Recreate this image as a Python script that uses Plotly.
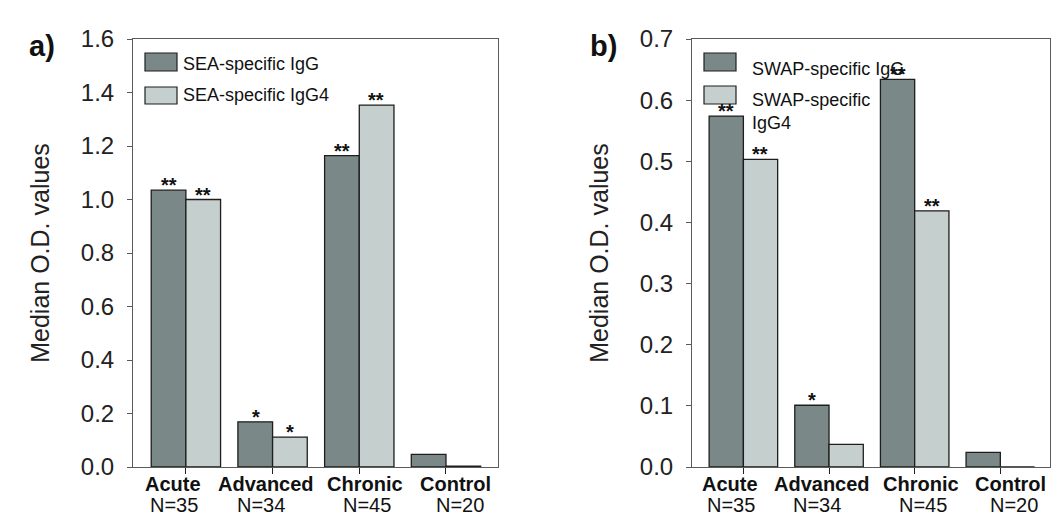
import plotly.graph_objects as go

# ---------------- data ----------------
categories = ["Acute", "Advanced", "Chronic", "Control"]
group_sizes = ["N=35", "N=34", "N=45", "N=20"]

a_igg = [1.035, 0.169, 1.164, 0.047]
a_igg4 = [1.000, 0.112, 1.353, 0.003]
a_igg_sig = ["**", "*", "**", ""]
a_igg4_sig = ["**", "*", "**", ""]

b_igg = [0.574, 0.101, 0.634, 0.024]
b_igg4 = [0.503, 0.037, 0.419, 0.0]
b_igg_sig = ["**", "*", "**", ""]
b_igg4_sig = ["**", "", "**", ""]

a_names = ["SEA-specific IgG", "SEA-specific IgG4"]
b_names = ["SWAP-specific IgG", "SWAP-specific<br>IgG4"]

# ---------------- style ----------------
W, H = 1056, 519
FONT = "Liberation Sans, Arial, sans-serif"
DARK = "#7a8887"
LIGHT = "#c5cfcd"
EDGE = "#1e1e1e"
AXC = "#5a5a5a"

def px(x):
    return x / W

def py(y):
    return 1 - y / H

fig = go.Figure()

def add_bars(vals, name, color, xa, ya):
    fig.add_trace(go.Bar(
        x=categories, y=vals, name=name,
        marker=dict(color=color, line=dict(color=EDGE, width=1.3)),
        xaxis=xa, yaxis=ya, showlegend=False,
    ))

add_bars(a_igg, a_names[0], DARK, "x", "y")
add_bars(a_igg4, a_names[1], LIGHT, "x", "y")
add_bars(b_igg, b_names[0], DARK, "x2", "y2")
add_bars(b_igg4, b_names[1], LIGHT, "x2", "y2")

ydom = [py(467), py(39)]
xcommon = dict(type="category", showline=True, mirror=True, linecolor=AXC,
               linewidth=1, ticks="outside", ticklen=6, tickcolor="#222",
               tickwidth=1.2, showticklabels=False, showgrid=False, zeroline=False,
               automargin=False)
ycommon = dict(showline=True, mirror=True, linecolor=AXC, linewidth=1,
               ticks="outside", ticklen=5, tickcolor=AXC, showgrid=False,
               zeroline=False, tickformat=".1f", ticklabelstandoff=8, automargin=False,
               tickfont=dict(family=FONT, size=24, color="#222"),
               title=dict(text="Median O.D. values", standoff=24,
                          font=dict(family=FONT, size=25, color="#222")))

fig.update_layout(
    width=W, height=H,
    margin=dict(l=0, r=0, t=0, b=0, autoexpand=False),
    paper_bgcolor="white", plot_bgcolor="white",
    barmode="group", bargap=0.2, bargroupgap=0,
    font=dict(family=FONT, color="#222"),
    xaxis=dict(domain=[px(133), px(498)], range=[-0.61, 3.6], anchor="y", **xcommon),
    xaxis2=dict(domain=[px(692), px(1050)], range=[-0.6, 3.58], anchor="y2", **xcommon),
    yaxis=dict(domain=ydom, range=[0, 1.6], dtick=0.2, anchor="x", **ycommon),
    yaxis2=dict(domain=ydom, range=[0, 0.7], dtick=0.1, anchor="x2", **ycommon),
)

# significance stars above bars (half-bar offsets within each group)
def add_stars(vals, sig, xa, ya, shift):
    for c, v, s in zip(categories, vals, sig):
        if s:
            fig.add_annotation(x=c, y=v, xref=xa, yref=ya, text="<b>%s</b>" % s,
                               showarrow=False, xshift=shift, yshift=5,
                               yanchor="middle", xanchor="center",
                               font=dict(family=FONT, size=20, color="#111"))

add_stars(a_igg, a_igg_sig, "x", "y", -17)
add_stars(a_igg4, a_igg4_sig, "x", "y", 17)
add_stars(b_igg, b_igg_sig, "x2", "y2", -17)
add_stars(b_igg4, b_igg4_sig, "x2", "y2", 17)

# category labels
cat_shift = [-13, -7, 6, 10]
n_shift = [-12, -12, 8, 14]
for xa in ["x", "x2"]:
    for i, (c, n) in enumerate(zip(categories, group_sizes)):
        fig.add_annotation(x=c, xref=xa, y=py(484), yref="paper", text="<b>%s</b>" % c,
                           showarrow=False, xshift=cat_shift[i], xanchor="center",
                           yanchor="middle", font=dict(family=FONT, size=20, color="#111"))
        fig.add_annotation(x=c, xref=xa, y=py(505), yref="paper", text=n,
                           showarrow=False, xshift=n_shift[i], xanchor="center",
                           yanchor="middle", font=dict(family=FONT, size=20, color="#111"))

# panel letters
fig.add_annotation(x=px(27), y=py(28), xref="paper", yref="paper", text="<b>a)</b>",
                   showarrow=False, font=dict(family=FONT, size=29, color="#111"))
fig.add_annotation(x=px(603), y=py(28), xref="paper", yref="paper", text="<b>b)</b>",
                   showarrow=False, font=dict(family=FONT, size=29, color="#111"))

# legends (drawn manually for large swatches)
def legend_item(x0, y0, y1, color, text, tx, ty):
    fig.add_shape(type="rect", xref="paper", yref="paper",
                  x0=px(x0), x1=px(x0 + 32), y0=py(y1), y1=py(y0),
                  fillcolor=color, line=dict(color=EDGE, width=1.2))
    fig.add_annotation(x=px(tx), y=py(ty), xref="paper", yref="paper", text=text,
                       showarrow=False, xanchor="left", yanchor="middle", align="left",
                       font=dict(family=FONT, size=18, color="#111"))

legend_item(145, 53, 71, DARK, a_names[0], 181, 64)
legend_item(145, 87, 104, LIGHT, a_names[1], 181, 95)
legend_item(704, 53, 71, DARK, b_names[0], 750, 69)
legend_item(704, 86, 104, LIGHT, b_names[1], 750, 112)

fig.write_html("out.html", config={"displayModeBar": False},
               post_script="document.body.style.margin='0';")
